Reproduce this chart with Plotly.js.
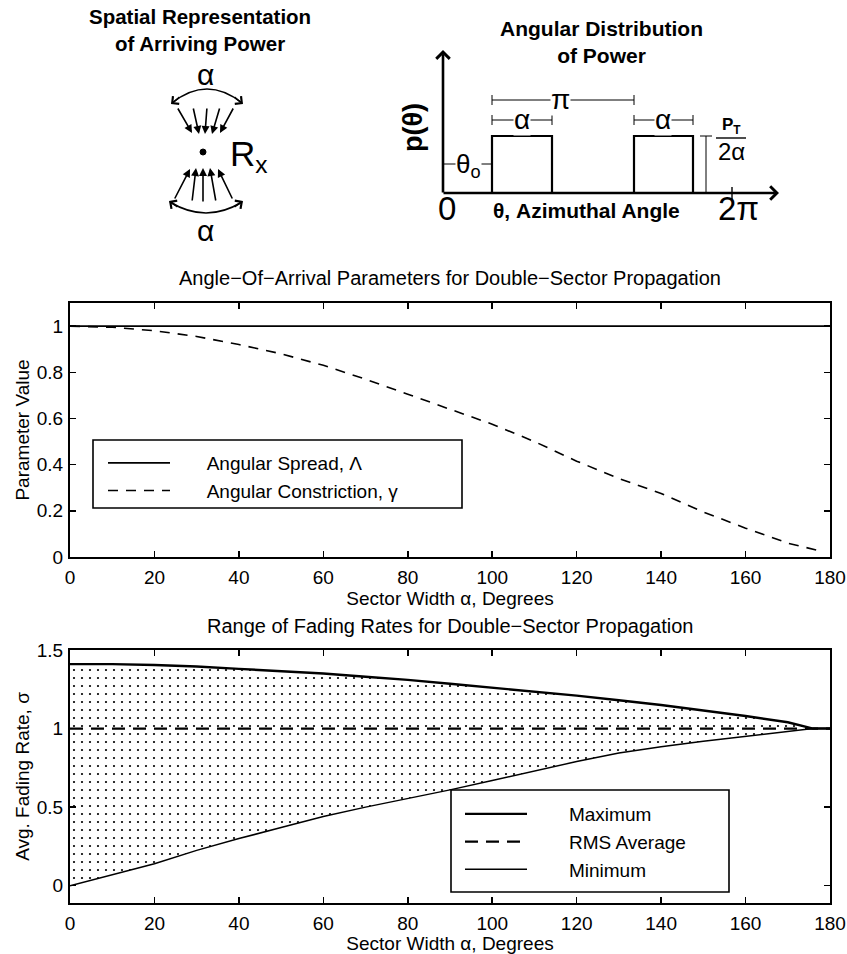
<!DOCTYPE html>
<html>
<head>
<meta charset="utf-8">
<script src="https://cdn.plot.ly/plotly-3.0.1.min.js"></script>
<style>html,body{margin:0;padding:0;background:#fff;}#chart{width:847px;height:954px;}</style>
</head>
<body>
<div id="chart"></div>
<script>
// ---------- data ----------
const sectorWidth = [0,10,20,30,40,50,60,70,80,90,100,110,120,130,140,150,160,170,178];
const spreadX = [0,180];
const angularSpread = [1,1];
const angularConstriction = [1.0,0.995,0.98,0.955,0.92,0.88,0.83,0.77,0.705,0.64,0.575,0.50,0.415,0.34,0.275,0.195,0.125,0.06,0.025];

const rateX = [0,10,20,30,40,50,60,70,80,90,100,110,120,130,140,150,160,170,176,180];
const maxRate = [1.41,1.41,1.405,1.395,1.38,1.365,1.35,1.33,1.31,1.285,1.26,1.235,1.21,1.18,1.15,1.115,1.08,1.04,1.0,1.0];
const minRate = [0.0,0.07,0.14,0.225,0.30,0.37,0.44,0.50,0.555,0.61,0.67,0.73,0.79,0.845,0.885,0.92,0.95,0.98,1.0,1.0];
const rmsX = [0,180];
const rmsRate = [1,1];

const xTickVals = [0,20,40,60,80,100,120,140,160,180];

// ---------- schematic geometry (diagram pixel space) ----------
const topArrowTails = [[177,107],[193,107],[207,107],[220,107],[234,107]];
const topArrowHeads = [[192,133],[199,134],[205,134],[212,134],[220,133]];
const botArrowTails = [[174,200],[192,202],[203,203],[216,202],[233,200]];
const botArrowHeads = [[190,169],[196,168],[203,168],[210,168],[218,169]];

const FONT = 'Liberation Sans, Arial, Helvetica, sans-serif';
const black = '#000';
const pad = n => '\u00A0'.repeat(n);

const traces = [
  // middle panel
  {x: spreadX, y: angularSpread, type:'scatter', mode:'lines', name:pad(6)+'Angular Spread, \u039B',
   line:{color:black, width:1.6}, xaxis:'x', yaxis:'y', legend:'legend'},
  {x: sectorWidth, y: angularConstriction, type:'scatter', mode:'lines', name:pad(6)+'Angular Constriction, \u03B3',
   line:{color:black, width:1.6, dash:'10px,8px'}, xaxis:'x', yaxis:'y', legend:'legend'},
  // bottom panel: stippled region
  {x: rateX, y: maxRate, type:'scatter', mode:'lines', line:{width:0, color:'rgba(0,0,0,0)'},
   showlegend:false, hoverinfo:'skip', xaxis:'x2', yaxis:'y2'},
  {x: rateX, y: minRate, type:'scatter', mode:'lines', line:{width:0, color:'rgba(0,0,0,0)'},
   fill:'tonexty', fillcolor:'rgba(255,255,255,0)',
   fillpattern:{shape:'.', fgcolor:black, bgcolor:'rgba(255,255,255,0)', size:8, solidity:0.06},
   showlegend:false, hoverinfo:'skip', xaxis:'x2', yaxis:'y2'},
  {x: rateX, y: maxRate, type:'scatter', mode:'lines', name:pad(7)+'Maximum',
   line:{color:black, width:2.4}, xaxis:'x2', yaxis:'y2', legend:'legend2'},
  {x: rmsX, y: rmsRate, type:'scatter', mode:'lines', name:pad(7)+'RMS Average',
   line:{color:black, width:2.2, dash:'13px,8px'}, xaxis:'x2', yaxis:'y2', legend:'legend2'},
  {x: rateX, y: minRate, type:'scatter', mode:'lines', name:pad(7)+'Minimum',
   line:{color:black, width:1.5}, xaxis:'x2', yaxis:'y2', legend:'legend2'}
];

function axisCommon(extra){
  return Object.assign({
    showline:true, linecolor:black, linewidth:2, mirror:'ticks',
    ticks:'inside', ticklen:6, tickwidth:1.5, tickcolor:black,
    showgrid:false, zeroline:false,
    tickfont:{family:FONT, size:19, color:black}
  }, extra);
}

const H = 954;
const py = p => 1 - p/H;          // pixel row -> paper y
const pxp = p => (p - 70)/760;     // pixel column -> paper x

const shapes = [];
const annotations = [];

// legend frames
shapes.push({type:'rect', xref:'paper', yref:'paper', x0:pxp(93), x1:pxp(462), y0:py(508), y1:py(440),
  line:{color:black, width:1.6}, fillcolor:'white', layer:'below'});
shapes.push({type:'rect', xref:'paper', yref:'paper', x0:pxp(451), x1:pxp(729), y0:py(892), y1:py(790),
  line:{color:black, width:1.6}, fillcolor:'rgba(0,0,0,0)', layer:'above'});

// ---- left schematic ----
const D = {xref:'x3', yref:'y3'};
function line(x0,y0,x1,y1,w){ shapes.push(Object.assign({type:'line', x0, y0, x1, y1, line:{color:black, width:w||1.2}}, D)); }
function arrow(head, tail, w, hd, size){
  annotations.push(Object.assign({x:head[0], y:head[1], ax:tail[0], ay:tail[1], axref:'x3', ayref:'y3',
    text:'', showarrow:true, arrowhead:hd, arrowsize:size||1, arrowwidth:w, arrowcolor:black}, D));
}
function label(x,y,text,size,extra){
  annotations.push(Object.assign({x, y, text, showarrow:false, xanchor:'center', yanchor:'middle',
    font:{family:FONT, size, color:black}}, D, extra||{}));
}
topArrowTails.forEach((t,i)=>arrow(topArrowHeads[i], t, 1.6, 2, 1));
botArrowTails.forEach((t,i)=>arrow(botArrowHeads[i], t, 1.6, 2, 1));
shapes.push(Object.assign({type:'path', path:'M172,103 Q207,75 242,103', line:{color:black, width:1.6}}, D));
shapes.push(Object.assign({type:'path', path:'M170,202 Q206,224 242,202', line:{color:black, width:1.6}}, D));
arrow([171,104],[181,96],1.6,4,1.2);
arrow([243,104],[233,96],1.6,4,1.2);
arrow([169,201],[179,208],1.6,4,1.2);
arrow([243,201],[233,208],1.6,4,1.2);
shapes.push(Object.assign({type:'circle', x0:200, x1:206, y0:149, y1:155, fillcolor:black, line:{color:black, width:1}}, D));
label(205,74,'\u03B1',30);
label(205,230,'\u03B1',30);
label(249,156,'R<sub>x</sub>',35);
label(200,30,'<b>Spatial Representation<br>of Arriving Power</b>',20.5);

// ---- right schematic ----
arrow([443,50],[443,194],2.6,4,1);
arrow([779,193],[442,193],2.6,4,1);
line(732,187,732,199,1.4);
shapes.push(Object.assign({type:'rect', x0:492, x1:552, y0:136, y1:193, line:{color:black, width:2.2}}, D));
shapes.push(Object.assign({type:'rect', x0:634, x1:693, y0:136, y1:193, line:{color:black, width:2.2}}, D));
// pi dimension
line(492,100,634,100,1); line(492,95,492,105,1); line(634,95,634,105,1);
label(560,99,'\u03C0',28,{bgcolor:'white', borderpad:0});
// alpha dimensions
line(492,120,552,120,1); line(492,115,492,125,1); line(552,115,552,125,1);
line(634,120,693,120,1); line(634,115,634,125,1); line(693,115,693,125,1);
label(522,119,'\u03B1',28,{bgcolor:'white', borderpad:0});
label(663,119,'\u03B1',28,{bgcolor:'white', borderpad:0});
// theta_o
line(443,164,492,164,1);
label(468,165,'\u03B8<sub>o</sub>',26,{bgcolor:'white', borderpad:0});
// P_T / 2 alpha
line(706,136,706,193,1); line(700,136,712,136,1);
line(716,138,746,138,1.4);
label(731,126,'<b>P<sub>T</sub></b>',17);
label(731,151,'2\u03B1',24);
label(413,128,'<b>p(\u03B8)</b>',27,{textangle:-90});
label(447,208,'0',33);
label(586,210,'<b>\u03B8, Azimuthal Angle</b>',21);
label(738,208,'2\u03C0',33);
label(601,42,'<b>Angular Distribution<br>of Power</b>',21);

// panel titles
annotations.push({xref:'paper', yref:'paper', x:0.5, y:py(278), text:'Angle\u2212Of\u2212Arrival Parameters for Double\u2212Sector Propagation',
  showarrow:false, xanchor:'center', yanchor:'middle', font:{family:FONT, size:20, color:black}});
annotations.push({xref:'paper', yref:'paper', x:0.5, y:py(626), text:'Range of Fading Rates for Double\u2212Sector Propagation',
  showarrow:false, xanchor:'center', yanchor:'middle', font:{family:FONT, size:20, color:black}});

const layout = {
  width:847, height:954,
  margin:{l:70, r:17, t:0, b:0},
  paper_bgcolor:'white', plot_bgcolor:'rgba(0,0,0,0)',
  font:{family:FONT, color:black},
  xaxis: axisCommon({domain:[0,1], range:[0,180], tickvals:xTickVals, anchor:'y', ticklabelstandoff:2,
    title:{text:'Sector Width \u03B1, Degrees', font:{family:FONT, size:19, color:black}, standoff:0}}),
  yaxis: axisCommon({domain:[py(557), py(303)], range:[0,1.1], dtick:0.2, tick0:0, anchor:'x', ticklabelstandoff:1,
    title:{text:'Parameter Value', font:{family:FONT, size:19, color:black}, standoff:2}}),
  xaxis2: axisCommon({domain:[0,1], range:[0,180], tickvals:xTickVals, anchor:'y2', ticklabelstandoff:2,
    title:{text:'Sector Width \u03B1, Degrees', font:{family:FONT, size:19, color:black}, standoff:0}}),
  yaxis2: axisCommon({domain:[py(903), py(650)], range:[-0.11,1.5], dtick:0.5, tick0:0, anchor:'x2', ticklabelstandoff:1,
    title:{text:'Avg. Fading Rate, \u03C3', font:{family:FONT, size:19, color:black}, standoff:2}}),
  xaxis3: {domain:[0,1], range:[70,830], visible:false, anchor:'y3', fixedrange:true},
  yaxis3: {domain:[py(240), 1], range:[240,0], visible:false, anchor:'x3', fixedrange:true},
  legend: {x:pxp(103), y:py(444), xanchor:'left', yanchor:'top', bgcolor:'rgba(0,0,0,0)', borderwidth:0,
    traceorder:'normal', font:{family:FONT, size:19, color:black}, itemwidth:62, tracegroupgap:0},
  legend2: {x:pxp(460), y:py(795), xanchor:'left', yanchor:'top', bgcolor:'rgba(0,0,0,0)', borderwidth:0,
    traceorder:'normal', font:{family:FONT, size:19, color:black}, itemwidth:62, tracegroupgap:0},
  shapes, annotations,
  showlegend:true
};

Plotly.newPlot('chart', traces, layout, {displayModeBar:false, staticPlot:true});
</script>
</body>
</html>
